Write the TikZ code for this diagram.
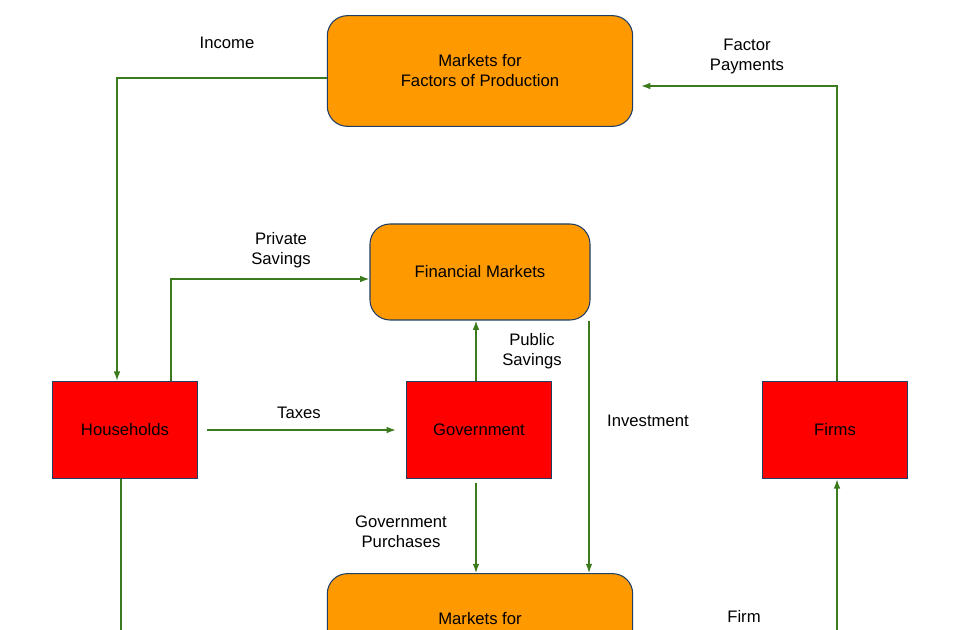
\documentclass[tikz,border=0pt]{standalone}
\usepackage{fontspec}
\setmainfont{Liberation Sans}
\usepackage{tikz}
\usetikzlibrary{arrows.meta}

\definecolor{boxorange}{HTML}{FF9900}
\definecolor{boxred}{HTML}{FF0000}
\definecolor{edgeblue}{HTML}{1F3F66}
\definecolor{flowgreen}{HTML}{3C7A1E}

\tikzset{
  market/.style = {draw=edgeblue, thick, fill=boxorange, rounded corners=15pt,
                   align=center, font=\fontsize{12.5}{15}\selectfont},
  agent/.style  = {draw=edgeblue, thick, fill=boxred, minimum width=109pt,
                   minimum height=73pt, font=\fontsize{12.5}{15}\selectfont},
  flow/.style   = {draw=flowgreen, line width=1.1pt, -{Latex[length=7pt,width=5pt]}},
  lbl/.style    = {align=center, font=\fontsize{12.5}{15}\selectfont}
}

\begin{document}
\begin{tikzpicture}[x=0.75pt, y=-0.75pt]
                % Frame
                \useasboundingbox (0,0) rectangle (960,630);

                % Markets
                \node[market, minimum width=229pt, minimum height=83pt] (MFP) at (480,71) {Markets for\\Factors of Production};
                \node[market, minimum width=165pt, minimum height=72pt] (FM) at (480,272) {Financial Markets};
                \node[market, minimum width=229pt, minimum height=83pt] (MGS) at (480,629) {Markets for\\Goods and Services};

                % Agents
                \node[agent] (HH) at (125,430) {Households};
                \node[agent] (Gov) at (479,430) {Government};
                \node[agent] (Firms) at (835,430) {Firms};

                % Bends and free ends
                \coordinate (incB) at (117,78);
                \coordinate (psA) at (171,381);
                \coordinate (psB) at (171,279);
                \coordinate (fpB) at (837,86);
                \coordinate (fpC) at (641,86);
                \coordinate (frA) at (837,640);
                \coordinate (hhB) at (121,640);
                \coordinate (taxA) at (207,430);
                \coordinate (taxB) at (396,430);
                \coordinate (gpA) at (476,483);

                % Flows
                \draw[flow] (MFP.west |- incB) -- (incB) -- (HH.north -| incB);
                \draw[flow] (psA) -- (psB) -- (FM.west |- psB);
                \draw[flow] (taxA) -- (taxB);
                \draw[flow] (Gov.north -| gpA) -- (FM.south -| gpA);
                \draw[flow] (FM.south -| 589,0) -- (MGS.north -| 589,0);
                \draw[flow] (gpA) -- (MGS.north -| gpA);
                \draw[flow] (Firms.north -| fpB) -- (fpB) -- (fpC);
                \draw[flow] (frA) -- (Firms.south -| frA);
                \draw[draw=flowgreen, line width=1.1pt] (HH.south -| hhB) -- (hhB);

                % Labels
                \node[lbl] (lInc) at (227,43) {Income};
                \node[lbl] (lFP) at (747,57) {Factor\\Payments};
                \node[lbl] (lPS) at (281,250) {Private\\Savings};
                \node[lbl] (lPub) at (532,351) {Public\\Savings};
                \node[lbl] (lTax) at (299,413) {Taxes};
                \node[lbl] (lInv) at (648,421) {Investment};
                \node[lbl] (lGP) at (401,532) {Government\\Purchases};
                \node[lbl] (lFR) at (744,627) {Firm\\Revenue};
            \end{tikzpicture}
\end{document}
